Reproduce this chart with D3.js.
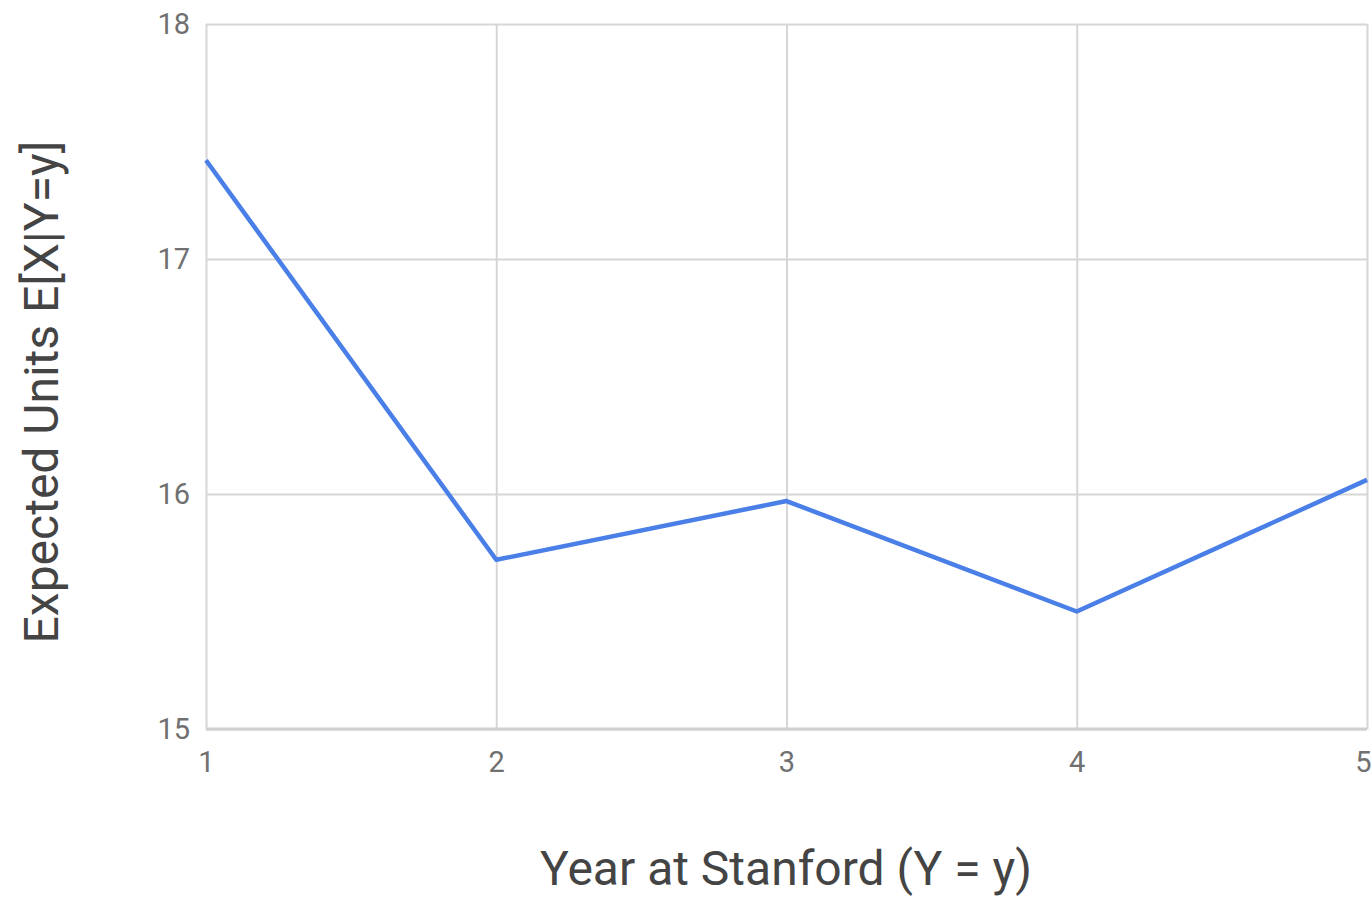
<!DOCTYPE html>
<html>
<head>
<meta charset="utf-8">
<script src="https://cdn.jsdelivr.net/npm/d3@7"></script>
<style>
  body { margin: 0; background: #fff; }
  svg { display: block; font-family: Roboto, "Noto Sans", sans-serif; }
</style>
</head>
<body>
<div id="chart-area"></div>
<script>
/* Data */
var years = [1, 2, 3, 4, 5];
var expectedUnits = [17.42, 15.72, 15.97, 15.50, 16.06];
var yTicks = [15, 16, 17, 18];

/* Margins */
var margin = {top: 24, right: 5, bottom: 170, left: 206};
var width = 1372 - margin.left - margin.right;
var height = 899 - margin.top - margin.bottom;

var svg = d3.select("#chart-area").append("svg")
  .attr("width", 1372)
  .attr("height", 899);

var g = svg.append("g")
  .attr("transform", "translate(" + margin.left + "," + margin.top + ")");

/* Scales */
var x = d3.scaleLinear()
  .domain([1, 5])
  .range([0, width]);

var y = d3.scaleLinear()
  .domain([15, 18])
  .range([height, 0]);

/* Grid */
g.append("g")
  .attr("class", "grid y")
  .call(d3.axisLeft(y).tickValues(yTicks).tickSize(-width).tickFormat(""))
  .call(s => s.select(".domain").remove())
  .selectAll("line")
    .attr("stroke", "#d6d6d6")
    .attr("stroke-width", 2);

g.append("g")
  .attr("class", "grid x")
  .attr("transform", "translate(0," + height + ")")
  .call(d3.axisBottom(x).tickValues(years).tickSize(-height).tickFormat(""))
  .call(s => s.select(".domain").remove())
  .selectAll("line")
    .attr("stroke", "#d6d6d6")
    .attr("stroke-width", 2);

// bottom baseline, a bit darker
g.append("line")
  .attr("x1", 0).attr("x2", width)
  .attr("y1", y(15)).attr("y2", y(15))
  .attr("stroke", "#cfcfcf")
  .attr("stroke-width", 3);

/* Axes labels */
var yAxis = g.append("g")
  .call(d3.axisLeft(y).tickValues(yTicks).tickSize(0).tickPadding(16).tickFormat(d3.format("d")));
yAxis.select(".domain").remove();
yAxis.selectAll("text")
  .attr("font-size", "29px")
  .attr("fill", "#707070")
  .attr("font-family", "Roboto, sans-serif");

var xAxis = g.append("g")
  .attr("transform", "translate(0," + height + ")")
  .call(d3.axisBottom(x).tickValues(years).tickSize(0).tickPadding(22).tickFormat(d3.format("d")));
xAxis.select(".domain").remove();
xAxis.selectAll("text")
  .attr("font-size", "29px")
  .attr("fill", "#707070")
  .attr("font-family", "Roboto, sans-serif")
  // last label sits on the right edge; nudge it in so it isn't clipped
  .attr("dx", d => d === 5 ? -4 : 0);

/* Line */
var line = d3.line()
  .x((d, i) => x(years[i]))
  .y(d => y(d));

g.append("path")
  .datum(expectedUnits)
  .attr("fill", "none")
  .attr("stroke", "#4a7fe8")
  .attr("stroke-width", 4.5)
  .attr("stroke-linejoin", "round")
  .attr("d", line);

/* Titles */
svg.append("text")
  .attr("transform", "translate(58,392) rotate(-90)")
  .attr("text-anchor", "middle")
  .attr("font-size", "48px")
  .attr("fill", "#444")
  .text("Expected Units E[X|Y=y]");

svg.append("text")
  .attr("x", 786)
  .attr("y", 885)
  .attr("text-anchor", "middle")
  .attr("font-size", "48px")
  .attr("fill", "#444")
  .text("Year at Stanford (Y = y)");
</script>
</body>
</html>
